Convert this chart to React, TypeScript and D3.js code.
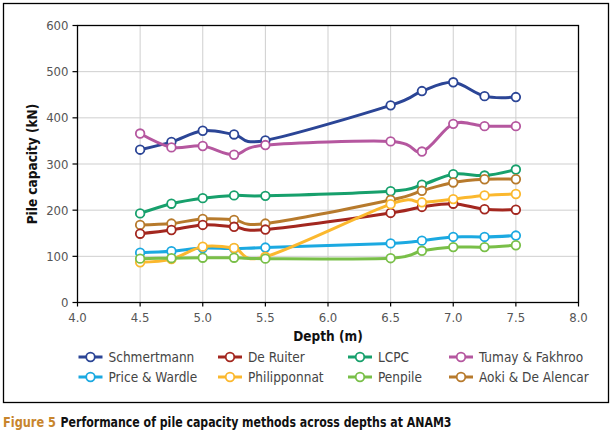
import * as d3 from 'd3'

const depths = [4.5, 4.75, 5.0, 5.25, 5.5, 6.5, 6.75, 7.0, 7.25, 7.5]

const schmertmann = [331, 348, 372, 364, 351, 427, 458, 477, 447, 445]
const deRuiter = [149, 157, 168, 164, 158, 194, 207, 214, 202, 201]
const lcpc = [193, 214, 226, 232, 231, 241, 255, 278, 275, 288]
const tumayFakhroo = [366, 336, 339, 320, 341, 349, 327, 387, 382, 382]
const priceWardle = [108, 111, 118, 117, 119, 128, 134, 142, 142, 145]
const philipponnat = [87, 94, 121, 118, 99, 213, 217, 224, 232, 235]
const penpile = [95, 96, 97, 97, 95, 96, 112, 120, 120, 124]
const aokiDeAlencar = [168, 171, 181, 179, 171, 222, 242, 260, 267, 267]

const seriesNames = [
  'Schmertmann', 'De Ruiter', 'LCPC', 'Tumay & Fakhroo',
  'Price & Wardle', 'Philipponnat', 'Penpile', 'Aoki & De Alencar',
]
const seriesValues = [
  schmertmann, deRuiter, lcpc, tumayFakhroo,
  priceWardle, philipponnat, penpile, aokiDeAlencar,
]
const colors = [
  '#2b4596', '#a3271f', '#17a06c', '#b5579f',
  '#1ba9e1', '#fbb82e', '#79bf48', '#b77a2c',
]
// draw order (back to front) roughly as in the original
const drawOrder = [0, 3, 2, 7, 1, 4, 5, 6]

const xTicks = [4.0, 4.5, 5.0, 5.5, 6.0, 6.5, 7.0, 7.5, 8.0]
const yTicks = [0, 100, 200, 300, 400, 500, 600]

const font = "'DejaVu Sans Condensed', 'Noto Sans', sans-serif"

const W = 614
const H = 441
const plot = { left: 77.5, right: 578.5, top: 25.5, bottom: 302.5 }

export default function App() {
  const x = d3.scaleLinear().domain([4, 8]).range([plot.left, plot.right])
  const y = d3.scaleLinear().domain([0, 600]).range([plot.bottom, plot.top])
  const line = d3.line<number>()
    .x((_, i) => x(depths[i]))
    .y(d => y(d))
    .curve(d3.curveCardinal.tension(0))

  const legendCols = [78.5, 218, 348, 449]
  const legendRows = [357, 377]

  return (
    <svg width={W} height={H} style={{ position: 'absolute', left: 0, top: 0, fontFamily: font }}>
      <rect x={0} y={0} width={W} height={H} fill="#fff" />
      <rect x={3.5} y={3.5} width={605} height={399} fill="none" stroke="#000" strokeWidth={1.3} />

      {xTicks.slice(1, -1).map(t => (
        <line key={'gx' + t} x1={x(t)} x2={x(t)} y1={plot.top} y2={plot.bottom} stroke="#cfcfcf" strokeWidth={1} />
      ))}
      {yTicks.slice(1, -1).map(t => (
        <line key={'gy' + t} x1={plot.left} x2={plot.right} y1={y(t)} y2={y(t)} stroke="#cfcfcf" strokeWidth={1} />
      ))}
      <rect x={plot.left} y={plot.top} width={plot.right - plot.left} height={plot.bottom - plot.top}
        fill="none" stroke="#000" strokeWidth={1.3} />

      {yTicks.map(t => (
        <g key={'yt' + t}>
          <line x1={plot.left - 5} x2={plot.left} y1={y(t)} y2={y(t)} stroke="#000" strokeWidth={1.2} />
          <text x={plot.left - 9} y={y(t) + 4.5} textAnchor="end" fontSize={13} fill="#555">{t}</text>
        </g>
      ))}
      {xTicks.map(t => (
        <g key={'xt' + t}>
          <line x1={x(t)} x2={x(t)} y1={plot.bottom} y2={plot.bottom + 4} stroke="#000" strokeWidth={1.2} />
          <text x={x(t)} y={plot.bottom + 19} textAnchor="middle" fontSize={13} fill="#555">{t.toFixed(1)}</text>
        </g>
      ))}

      <text x={(plot.left + plot.right) / 2} y={341} textAnchor="middle" fontSize={13.5} fontWeight="bold" fill="#111">Depth (m)</text>
      <text transform={`translate(36.5,${(plot.top + plot.bottom) / 2}) rotate(-90)`} textAnchor="middle"
        fontSize={13.5} fontWeight="bold" fill="#111">Pile capacity (kN)</text>

      {drawOrder.map(si => (
        <g key={'s' + si}>
          <path d={line(seriesValues[si]) ?? ''} fill="none" stroke={colors[si]} strokeWidth={3} />
          {seriesValues[si].map((v, i) => (
            <circle key={i} cx={x(depths[i])} cy={y(v)} r={4.3} fill="#fff" stroke={colors[si]} strokeWidth={1.8} />
          ))}
        </g>
      ))}

      {seriesNames.map((name, i) => {
        const lx = legendCols[i % 4]
        const ly = legendRows[Math.floor(i / 4)]
        return (
          <g key={'lg' + i}>
            <line x1={lx} x2={lx + 24} y1={ly} y2={ly} stroke={colors[i]} strokeWidth={3} />
            <circle cx={lx + 12} cy={ly} r={4.3} fill="#fff" stroke={colors[i]} strokeWidth={1.8} />
            <text x={lx + 30} y={ly + 4.5} fontSize={13.5} fill="#444">{name}</text>
          </g>
        )
      })}

      <text x={3} y={427} fontSize={14} fontWeight="bold" fill="#c8852c"
        textLength={53} lengthAdjust="spacingAndGlyphs">Figure 5</text>
      <text x={60.5} y={427} fontSize={14} fontWeight="bold" fill="#111"
        textLength={391} lengthAdjust="spacingAndGlyphs">Performance of pile capacity methods across depths at ANAM3</text>
    </svg>
  )
}
